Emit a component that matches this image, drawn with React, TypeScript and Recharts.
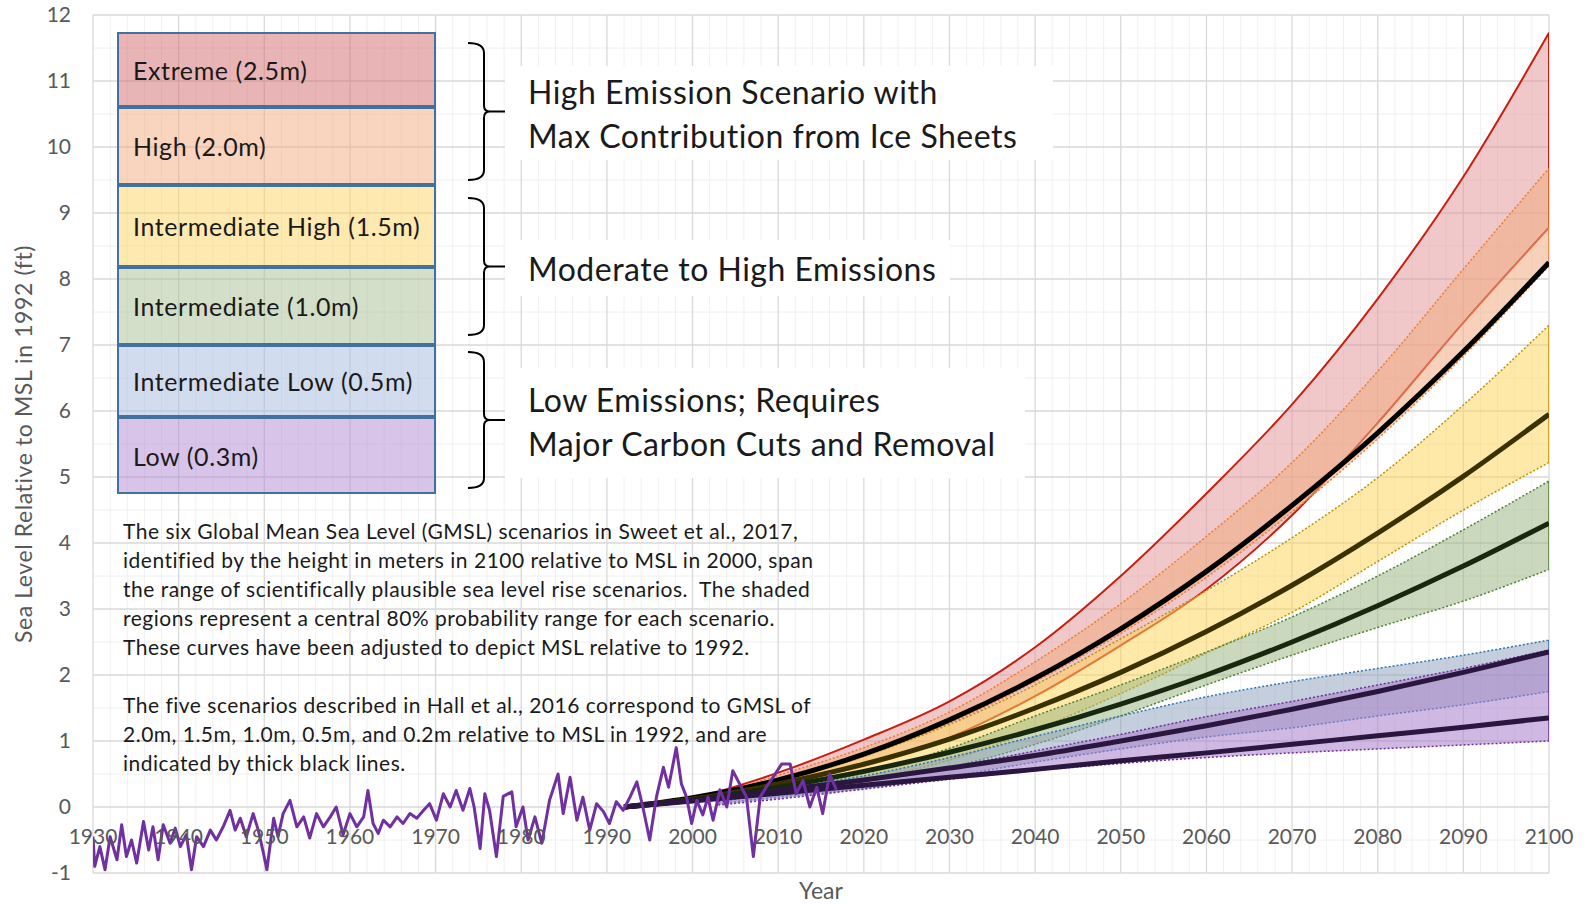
import React from 'react';
import { ComposedChart, Area, Line, XAxis, YAxis, CartesianGrid } from 'recharts';

// axis ticks
const decadeTicks = [1930, 1940, 1950, 1960, 1970, 1980, 1990, 2000, 2010, 2020, 2030, 2040, 2050, 2060, 2070, 2080, 2090, 2100];
const levelTicks = [-1, 0, 1, 2, 3, 4, 5, 6, 7, 8, 9, 10, 11, 12];
const minorYears = [1932, 1934, 1936, 1938, 1942, 1944, 1946, 1948, 1952, 1954, 1956, 1958, 1962, 1964, 1966, 1968, 1972, 1974, 1976, 1978, 1982, 1984, 1986, 1988, 1992, 1994, 1996, 1998, 2002, 2004, 2006, 2008, 2012, 2014, 2016, 2018, 2022, 2024, 2026, 2028, 2032, 2034, 2036, 2038, 2042, 2044, 2046, 2048, 2052, 2054, 2056, 2058, 2062, 2064, 2066, 2068, 2072, 2074, 2076, 2078, 2082, 2084, 2086, 2088, 2092, 2094, 2096, 2098];
const minorLevels = [-0.5, 0.5, 1.5, 2.5, 3.5, 4.5, 5.5, 6.5, 7.5, 8.5, 9.5, 10.5, 11.5];

// Sweet et al. 2017 scenario bands (ft, relative to 1992)
const projectionYears = [2003, 2010, 2020, 2030, 2040, 2050, 2060, 2070, 2080, 2090, 2100];
const extremeHigh = [0.23, 0.52, 1.02, 1.6, 2.42, 3.5, 4.75, 6.1, 7.7, 9.55, 11.73];
const extremeLow = [0.2, 0.38, 0.62, 1.05, 1.68, 2.45, 3.3, 4.42, 5.82, 7.34, 8.78];
const highHigh = [0.2, 0.48, 0.9, 1.44, 2.2, 3.08, 4.1, 5.22, 6.6, 8.15, 9.68];
const highLow = [0.18, 0.38, 0.76, 1.27, 1.9, 2.63, 3.48, 4.47, 5.58, 6.83, 8.2];
const intHighHigh = [0.2, 0.42, 0.78, 1.25, 1.85, 2.55, 3.28, 4.08, 4.99, 6.09, 7.3];
const intHighLow = [0.1, 0.22, 0.41, 0.71, 1.17, 1.72, 2.33, 2.95, 3.72, 4.5, 5.22];
const intermediateHigh = [0.15, 0.3, 0.51, 0.89, 1.38, 1.85, 2.35, 2.88, 3.5, 4.2, 4.94];
const intermediateLow = [0.1, 0.2, 0.38, 0.6, 0.95, 1.38, 1.85, 2.3, 2.72, 3.12, 3.6];
const intLowHigh = [0.1, 0.28, 0.47, 0.75, 1.07, 1.38, 1.67, 1.9, 2.1, 2.3, 2.53];
const intLowLow = [0.05, 0.15, 0.28, 0.46, 0.68, 0.88, 1.06, 1.2, 1.38, 1.55, 1.75];
const lowHigh = [0.08, 0.22, 0.4, 0.6, 0.85, 1.1, 1.37, 1.6, 1.85, 2.1, 2.38];
const lowLow = [0.03, 0.12, 0.27, 0.42, 0.55, 0.66, 0.75, 0.82, 0.88, 0.94, 1.0];

// Hall et al. 2016 scenarios (thick lines)
const hallYears = [1992, 2000, 2010, 2020, 2030, 2040, 2050, 2060, 2070, 2080, 2090, 2100];
const hall20 = [0, 0.14, 0.41, 0.8, 1.32, 1.95, 2.7, 3.57, 4.57, 5.67, 6.9, 8.25];
const hall15 = [0, 0.12, 0.35, 0.65, 1.03, 1.5, 2.04, 2.66, 3.36, 4.15, 5.01, 5.95];
const hall10 = [0, 0.11, 0.3, 0.54, 0.83, 1.17, 1.56, 2.0, 2.5, 3.05, 3.65, 4.3];
const hall05 = [0, 0.1, 0.25, 0.41, 0.59, 0.78, 1.0, 1.23, 1.48, 1.75, 2.04, 2.35];
const hall02 = [0, 0.09, 0.21, 0.33, 0.45, 0.57, 0.7, 0.82, 0.95, 1.08, 1.21, 1.35];

// observed tide gauge record [year, ft]
const observed: [number, number][] = [
  [1930.0, -0.45], [1930.2, -0.9], [1930.8, -0.6], [1931.4, -0.95], [1932.0, -0.45], [1932.8, -0.8],
  [1933.35, -0.27], [1933.9, -0.75], [1934.5, -0.5], [1935.1, -0.85], [1935.9, -0.22], [1936.5, -0.65],
  [1937.0, -0.3], [1937.6, -0.8], [1938.2, -0.27], [1939.0, -0.55], [1939.6, -0.32], [1940.2, -0.6],
  [1940.9, -0.42], [1941.5, -0.95], [1942.1, -0.45], [1942.9, -0.6], [1943.7, -0.35], [1944.4, -0.5],
  [1945.2, -0.3], [1946.0, -0.05], [1946.6, -0.35], [1947.2, -0.17], [1947.9, -0.45], [1948.7, -0.1],
  [1949.3, -0.35], [1949.9, -0.7], [1950.3, -0.95], [1951.1, -0.17], [1951.6, -0.45], [1952.2, -0.1],
  [1953.0, 0.1], [1953.8, -0.3], [1954.6, -0.15], [1955.3, -0.47], [1956.1, -0.1], [1956.9, -0.3],
  [1957.7, -0.15], [1958.4, 0.0], [1959.2, -0.42], [1960.0, -0.1], [1960.8, -0.3], [1961.6, -0.15],
  [1962.1, 0.25], [1962.7, -0.25], [1963.3, -0.4], [1963.9, -0.2], [1964.7, -0.3], [1965.5, -0.15],
  [1966.2, -0.25], [1967.0, -0.1], [1967.8, -0.17], [1968.6, -0.05], [1969.3, 0.05], [1970.1, -0.2],
  [1970.9, 0.2], [1971.7, 0.0], [1972.4, 0.25], [1973.2, -0.05], [1974.0, 0.28], [1974.5, 0.0],
  [1975.2, -0.63], [1975.75, 0.2], [1976.3, -0.05], [1977.1, -0.75], [1977.9, 0.16], [1978.9, 0.23],
  [1979.4, -0.3], [1980.2, 0.0], [1980.8, -0.5], [1981.6, -0.15], [1982.4, -0.55], [1983.3, 0.1],
  [1984.3, 0.5], [1984.9, -0.1], [1985.7, 0.45], [1986.5, -0.2], [1987.2, 0.15], [1988.0, -0.35],
  [1988.8, 0.05], [1989.6, -0.07], [1990.3, -0.25], [1991.1, 0.08], [1991.9, -0.05], [1992.7, 0.15],
  [1993.5, 0.38], [1994.2, 0.0], [1995.0, -0.5], [1995.8, 0.16], [1996.6, 0.6], [1997.2, 0.3],
  [1998.1, 0.9], [1998.7, 0.35], [1999.3, 0.15], [1999.9, -0.25], [2000.5, 0.1], [2001.2, -0.12],
  [2001.8, 0.15], [2002.4, -0.2], [2003.2, 0.26], [2004.0, 0.0], [2004.7, 0.55], [2005.3, 0.4],
  [2006.3, 0.15], [2007.1, -0.75], [2007.9, 0.15], [2008.6, 0.3], [2009.4, 0.45], [2010.4, 0.65],
  [2011.4, 0.65], [2012.1, 0.2], [2012.9, 0.4], [2013.7, 0.0], [2014.5, 0.3], [2015.2, -0.1],
  [2016.0, 0.5], [2016.8, 0.26],
];

const scenarios = [
  { name: 'Extreme (2.5m)', low: extremeLow, high: extremeHigh, fill: '#e19195', fillOpacity: 0.5, stroke: '#c81e10', dash: undefined, box: 'rgba(209,105,107,0.5)' },
  { name: 'High (2.0m)', low: highLow, high: highHigh, fill: '#f1ab7f', fillOpacity: 0.55, stroke: '#ed7d31', dash: '2 2', box: 'rgba(243,171,129,0.5)' },
  { name: 'Intermediate High (1.5m)', low: intHighLow, high: intHighHigh, fill: '#fdd353', fillOpacity: 0.5, stroke: '#bf9000', dash: '2 2', box: 'rgba(253,211,99,0.5)' },
  { name: 'Intermediate (1.0m)', low: intermediateLow, high: intermediateHigh, fill: '#95b37b', fillOpacity: 0.5, stroke: '#548235', dash: '2 2', box: 'rgba(167,191,145,0.5)' },
  { name: 'Intermediate Low (0.5m)', low: intLowLow, high: intLowHigh, fill: '#8b9db9', fillOpacity: 0.5, stroke: '#2e75b6', dash: '2 2', box: 'rgba(165,185,223,0.5)' },
  { name: 'Low (0.3m)', low: lowLow, high: lowHigh, fill: '#a77fcb', fillOpacity: 0.55, stroke: '#7030a0', dash: '2 2', box: 'rgba(175,137,209,0.5)' },
];

const hallLines = [
  { name: 'Hall 2.0m', values: hall20, color: '#000000' },
  { name: 'Hall 1.5m', values: hall15, color: '#3a3100' },
  { name: 'Hall 1.0m', values: hall10, color: '#18280f' },
  { name: 'Hall 0.5m', values: hall05, color: '#2b1640' },
  { name: 'Hall 0.2m', values: hall02, color: '#2b1640' },
];

const noteLines1 = [
  'The six Global Mean Sea Level (GMSL) scenarios in Sweet et al., 2017,',
  'identified by the height in meters in 2100 relative to MSL in 2000, span',
  'the range of scientifically plausible sea level rise scenarios.  The shaded',
  'regions represent a central 80% probability range for each scenario.',
  'These curves have been adjusted to depict MSL relative to 1992.',
];
const noteLines2 = [
  'The five scenarios described in Hall et al., 2016 correspond to GMSL of',
  '2.0m, 1.5m, 1.0m, 0.5m, and 0.2m relative to MSL in 1992, and are',
  'indicated by thick black lines.',
];

const emissionLabels: [string, number][] = [
  ['High Emission Scenario with', 92],
  ['Max Contribution from Ice Sheets', 136],
  ['Moderate to High Emissions', 269],
  ['Low Emissions; Requires', 400],
  ['Major Carbon Cuts and Removal', 444],
];

const FONT = 'Lato, "Open Sans", sans-serif';
const GRAY = '#595959';
const INK = '#1a1a1a';

const boxTops = [32, 107, 185, 267, 345, 417, 494];

const YearTick = (props: any) => {
  const { x, y, payload } = props;
  return (
    <text x={x} y={y} dy={-37} textAnchor="middle" fill={GRAY} fontSize={21} fontFamily={FONT}>
      {payload.value}
    </text>
  );
};

const Brace = ({ top, bottom }: { top: number; bottom: number }) => {
  const mid = (top + bottom) / 2;
  const x0 = 468;
  const x1 = 484;
  const x2 = 507;
  const d = `M ${x0} ${top} Q ${x1} ${top} ${x1} ${top + 10} L ${x1} ${mid - 6} Q ${x1} ${mid} ${x1 + 6} ${mid} L ${x2} ${mid} M ${x1 + 6} ${mid} Q ${x1} ${mid} ${x1} ${mid + 6} L ${x1} ${bottom - 10} Q ${x1} ${bottom} ${x0} ${bottom}`;
  return <path d={d} fill="none" stroke="#000" strokeWidth={2} />;
};

const App = () => {
  const bandData = scenarios.map((s) => projectionYears.map((year, i) => ({ year, range: [s.low[i], s.high[i]] })));
  const last = projectionYears.length - 1;
  const edgeData = scenarios.map((s) => [
    { year: projectionYears[last], level: s.low[last] },
    { year: projectionYears[last], level: s.high[last] },
  ]);
  const hallData = hallLines.map((h) => hallYears.map((year, i) => ({ year, level: h.values[i] })));
  const observedData = observed.map(([year, level]) => ({ year, level }));

  const minorH = ({ yAxis, offset }: any) =>
    minorLevels.map((v) => (yAxis && typeof yAxis.scale === 'function' ? yAxis.scale(v) : offset.top + ((12 - v) / 13) * offset.height));
  const minorV = ({ xAxis, offset }: any) =>
    minorYears.map((yr) => (xAxis && typeof xAxis.scale === 'function' ? xAxis.scale(yr) : offset.left + ((yr - 1930) / 170) * offset.width));

  return (
    <div style={{ position: 'absolute', left: 0, top: 0, width: 1590, height: 905, background: '#fff', fontFamily: FONT }}>
      <ComposedChart width={1590} height={905} margin={{ top: 15, right: 41, bottom: 0, left: 0 }}>
        <CartesianGrid stroke="#f0f0f0" strokeWidth={1} horizontalCoordinatesGenerator={minorH} verticalCoordinatesGenerator={minorV} />
        <CartesianGrid stroke="#d9d9d9" strokeWidth={1.3} />
        <XAxis
          dataKey="year"
          type="number"
          domain={[1930, 2100]}
          ticks={decadeTicks}
          allowDataOverflow
          height={32}
          axisLine={false}
          tickLine={false}
          tick={<YearTick />}
          label={{ value: 'Year', position: 'insideBottom', offset: 6, fill: GRAY, fontSize: 23, fontFamily: FONT }}
        />
        <YAxis
          type="number"
          domain={[-1, 12]}
          ticks={levelTicks}
          allowDataOverflow
          width={93}
          axisLine={false}
          tickLine={false}
          tickMargin={16}
          tick={{ fill: GRAY, fontSize: 21, fontFamily: FONT }}
          label={{ value: 'Sea Level Relative to MSL in 1992 (ft)', angle: -90, position: 'insideLeft', offset: 24, fill: GRAY, fontSize: 23, fontFamily: FONT, style: { textAnchor: 'middle', letterSpacing: '0.6px' } }}
        />
        {scenarios.map((s, i) => (
          <Area
            key={s.name}
            data={bandData[i]}
            dataKey="range"
            type="monotone"
            fill={s.fill}
            fillOpacity={s.fillOpacity}
            stroke={s.stroke}
            strokeWidth={s.dash ? 1.5 : 2}
            strokeDasharray={s.dash}
            isAnimationActive={false}
            dot={false}
            activeDot={false}
          />
        ))}
        {scenarios.map((s, i) => (
          <Line
            key={`${s.name}-edge`}
            data={edgeData[i]}
            dataKey="level"
            type="linear"
            stroke={s.stroke}
            strokeWidth={s.dash ? 1.5 : 2}
            dot={false}
            activeDot={false}
            isAnimationActive={false}
          />
        ))}
        {hallLines.map((h, i) => (
          <Line
            key={h.name}
            data={hallData[i]}
            dataKey="level"
            type="monotone"
            stroke={h.color}
            strokeWidth={5}
            dot={false}
            activeDot={false}
            isAnimationActive={false}
          />
        ))}
        <Line
          data={observedData}
          dataKey="level"
          type="linear"
          stroke="#7030a0"
          strokeWidth={3}
          strokeLinejoin="round"
          dot={false}
          activeDot={false}
          isAnimationActive={false}
        />
      </ComposedChart>

      {/* scenario legend boxes */}
      {scenarios.map((s, i) => (
        <div
          key={s.name}
          style={{
            position: 'absolute',
            left: 117,
            top: boxTops[i],
            width: 319,
            height: boxTops[i + 1] - boxTops[i],
            boxSizing: 'border-box',
            border: '2px solid #41719c',
            background: s.box,
            display: 'flex',
            alignItems: 'center',
            paddingLeft: 14,
            fontSize: 25,
            letterSpacing: '0.6px',
            color: INK,
            whiteSpace: 'nowrap',
          }}
        >
          {s.name}
        </div>
      ))}

      {/* braces */}
      <svg width={1590} height={905} style={{ position: 'absolute', left: 0, top: 0, pointerEvents: 'none' }}>
        <Brace top={43} bottom={180} />
        <Brace top={198} bottom={335} />
        <Brace top={352} bottom={488} />
      </svg>

      {/* emission annotations */}
      <div style={{ position: 'absolute', left: 505, top: 66, width: 548, height: 94, background: '#fff' }} />
      <div style={{ position: 'absolute', left: 505, top: 240, width: 445, height: 56, background: '#fff' }} />
      <div style={{ position: 'absolute', left: 505, top: 368, width: 520, height: 110, background: '#fff' }} />
      {emissionLabels.map(([t, cy]) => (
        <div
          key={t}
          style={{ position: 'absolute', left: 528, top: cy - 21, height: 42, lineHeight: '42px', fontSize: 32, letterSpacing: '0.5px', color: INK, whiteSpace: 'nowrap' }}
        >
          {t}
        </div>
      ))}

      {/* notes */}
      {noteLines1.map((t, i) => (
        <div key={t} style={{ position: 'absolute', left: 123, top: 531 + i * 29 - 14, height: 28, lineHeight: '28px', fontSize: 21, letterSpacing: '0.5px', color: INK, whiteSpace: 'pre' }}>
          {t}
        </div>
      ))}
      {noteLines2.map((t, i) => (
        <div key={t} style={{ position: 'absolute', left: 123, top: 705 + i * 29 - 14, height: 28, lineHeight: '28px', fontSize: 21, letterSpacing: '0.5px', color: INK, whiteSpace: 'pre' }}>
          {t}
        </div>
      ))}
    </div>
  );
};

export default App;
